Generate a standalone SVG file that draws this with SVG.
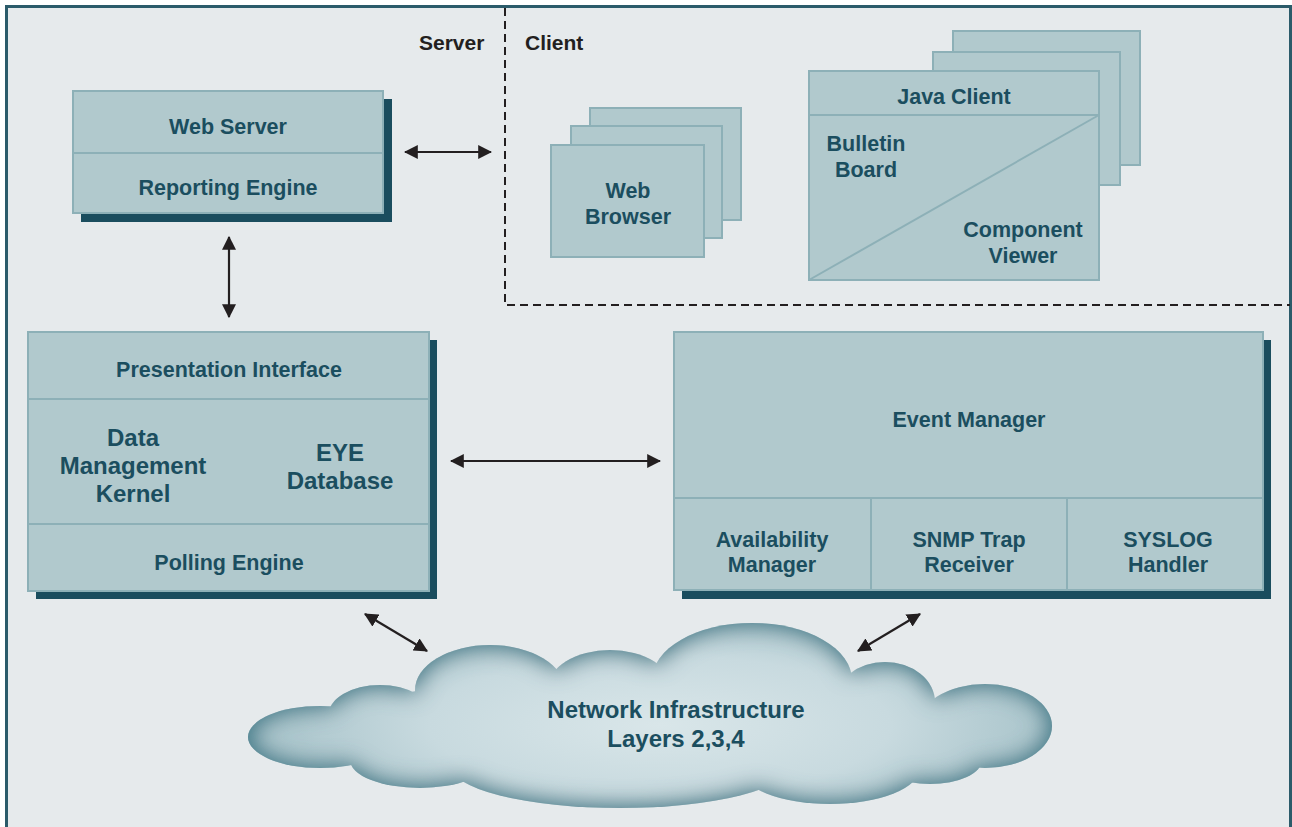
<svg xmlns="http://www.w3.org/2000/svg" width="1292" height="827" viewBox="0 0 1292 827">
  <style>
    .box { fill: #b1c9cd; stroke: #8db0b7; stroke-width: 2; }
    .div { stroke: #8db0b7; stroke-width: 2; fill: none; }
    .shadow { fill: #1a4d5e; }
    .lbl { font-family: "Liberation Sans", Arial, sans-serif; font-weight: bold; font-size: 21.5px; fill: #1b4e5f; text-anchor: middle; }
    .big { font-size: 24px; }
    .zone { font-family: "Liberation Sans", Arial, sans-serif; font-weight: bold; font-size: 21px; fill: #231f20; }
    .conn { stroke: #231f20; stroke-width: 2.2; fill: none; marker-start: url(#head); marker-end: url(#head); }
    .dash { stroke: #231f20; stroke-width: 2; fill: none; stroke-dasharray: 8 5; }
  </style>
  <defs>
    <marker id="head" viewBox="0 0 12 12" refX="11" refY="6" markerWidth="14" markerHeight="14" markerUnits="userSpaceOnUse" orient="auto-start-reverse">
      <path d="M0,0 L12,6 L0,12 Z" fill="#231f20"/>
    </marker>
    <radialGradient id="cloudFill" gradientUnits="userSpaceOnUse" cx="660" cy="725" r="420" gradientTransform="translate(0,725) scale(1,0.3) translate(0,-725)">
      <stop offset="0" stop-color="#d9e6e9"/>
      <stop offset="0.55" stop-color="#c8dadf"/>
      <stop offset="1" stop-color="#a3c0c7"/>
    </radialGradient>
    <filter id="innerEdge" x="-5%" y="-10%" width="110%" height="120%">
      <feGaussianBlur in="SourceAlpha" stdDeviation="12" result="blur"/>
      <feComposite in="SourceAlpha" in2="blur" operator="out" result="edge"/>
      <feFlood flood-color="#4a8290" result="tint"/>
      <feComposite in="tint" in2="edge" operator="in" result="dark"/>
      <feMerge>
        <feMergeNode in="SourceGraphic"/>
        <feMergeNode in="dark"/>
        <feMergeNode in="dark"/>
      </feMerge>
    </filter>
  </defs>

  <!-- page -->
  <rect x="0" y="0" width="1292" height="827" fill="#ffffff"/>
  <rect x="6.5" y="6.5" width="1284" height="830" fill="#e6eaec" stroke="#2b5b6a" stroke-width="3"/>

  <!-- server / client boundary -->
  <path class="dash" d="M505,8 V305 H1290"/>
  <text class="zone" x="419" y="50">Server</text>
  <text class="zone" x="525" y="50">Client</text>

  <!-- Web Server / Reporting Engine -->
  <g id="web-server">
    <rect class="shadow" x="81" y="99" width="311" height="123"/>
    <rect class="box" x="73" y="91" width="310" height="122"/>
    <line class="div" x1="73" y1="153" x2="383" y2="153"/>
    <text class="lbl" x="228" y="134">Web Server</text>
    <text class="lbl" x="228" y="195">Reporting Engine</text>
  </g>

  <!-- Web Browser stack -->
  <g id="web-browser">
    <rect class="box" x="590" y="108" width="151" height="112"/>
    <rect class="box" x="571" y="126" width="151" height="112"/>
    <rect class="box" x="551" y="145" width="153" height="112"/>
    <text class="lbl" x="628" y="198">Web</text>
    <text class="lbl" x="628" y="224">Browser</text>
  </g>

  <!-- Java Client stack -->
  <g id="java-client">
    <rect class="box" x="953" y="31" width="187" height="134"/>
    <rect class="box" x="933" y="52" width="187" height="133"/>
    <rect class="box" x="809" y="71" width="290" height="209"/>
    <line class="div" x1="809" y1="115" x2="1099" y2="115"/>
    <line class="div" x1="809" y1="280" x2="1099" y2="115"/>
    <text class="lbl" x="954" y="104">Java Client</text>
    <text class="lbl" x="866" y="151">Bulletin</text>
    <text class="lbl" x="866" y="177">Board</text>
    <text class="lbl" x="1023" y="237">Component</text>
    <text class="lbl" x="1023" y="263">Viewer</text>
  </g>

  <!-- Presentation / Data Management / Polling -->
  <g id="core">
    <rect class="shadow" x="36" y="340" width="401" height="259"/>
    <rect class="box" x="28" y="332" width="401" height="259"/>
    <line class="div" x1="28" y1="399" x2="429" y2="399"/>
    <line class="div" x1="28" y1="524" x2="429" y2="524"/>
    <text class="lbl" x="229" y="377">Presentation Interface</text>
    <text class="lbl big" x="133" y="446">Data</text>
    <text class="lbl big" x="133" y="474">Management</text>
    <text class="lbl big" x="133" y="502">Kernel</text>
    <text class="lbl big" x="340" y="461">EYE</text>
    <text class="lbl big" x="340" y="489">Database</text>
    <text class="lbl" x="229" y="570">Polling Engine</text>
  </g>

  <!-- Event Manager -->
  <g id="event-manager">
    <rect class="shadow" x="682" y="340" width="589" height="259"/>
    <rect class="box" x="674" y="332" width="589" height="258"/>
    <line class="div" x1="674" y1="498" x2="1263" y2="498"/>
    <line class="div" x1="871" y1="498" x2="871" y2="590"/>
    <line class="div" x1="1067" y1="498" x2="1067" y2="590"/>
    <text class="lbl" x="969" y="427">Event Manager</text>
    <text class="lbl" x="772" y="547">Availability</text>
    <text class="lbl" x="772" y="572">Manager</text>
    <text class="lbl" x="969" y="547">SNMP Trap</text>
    <text class="lbl" x="969" y="572">Receiver</text>
    <text class="lbl" x="1168" y="547">SYSLOG</text>
    <text class="lbl" x="1168" y="572">Handler</text>
  </g>

  <!-- Network cloud: union of lobes, light centre, darker rim -->
  <g id="network">
    <g fill="url(#cloudFill)" filter="url(#innerEdge)">
      <ellipse cx="320" cy="737" rx="72" ry="31"/>
      <ellipse cx="380" cy="716" rx="52" ry="31"/>
      <ellipse cx="650" cy="730" rx="330" ry="55"/>
      <ellipse cx="490" cy="690" rx="75" ry="45"/>
      <ellipse cx="610" cy="688" rx="62" ry="38"/>
      <ellipse cx="752" cy="680" rx="100" ry="57"/>
      <ellipse cx="885" cy="702" rx="50" ry="40"/>
      <ellipse cx="985" cy="726" rx="67" ry="42"/>
      <ellipse cx="620" cy="765" rx="170" ry="43"/>
      <ellipse cx="830" cy="768" rx="90" ry="36"/>
      <ellipse cx="420" cy="760" rx="70" ry="28"/>
      <ellipse cx="930" cy="760" rx="52" ry="24"/>
    </g>
    <text class="lbl big" x="676" y="718">Network Infrastructure</text>
    <text class="lbl big" x="676" y="747">Layers 2,3,4</text>
  </g>

  <!-- connectors -->
  <g id="connectors">
    <line class="conn" x1="405" y1="152" x2="491" y2="152"/>
    <line class="conn" x1="229" y1="237" x2="229" y2="317"/>
    <line class="conn" x1="451" y1="461" x2="660" y2="461"/>
    <line class="conn" x1="365" y1="614" x2="427" y2="651"/>
    <line class="conn" x1="920" y1="614" x2="858" y2="651"/>
  </g>
</svg>
